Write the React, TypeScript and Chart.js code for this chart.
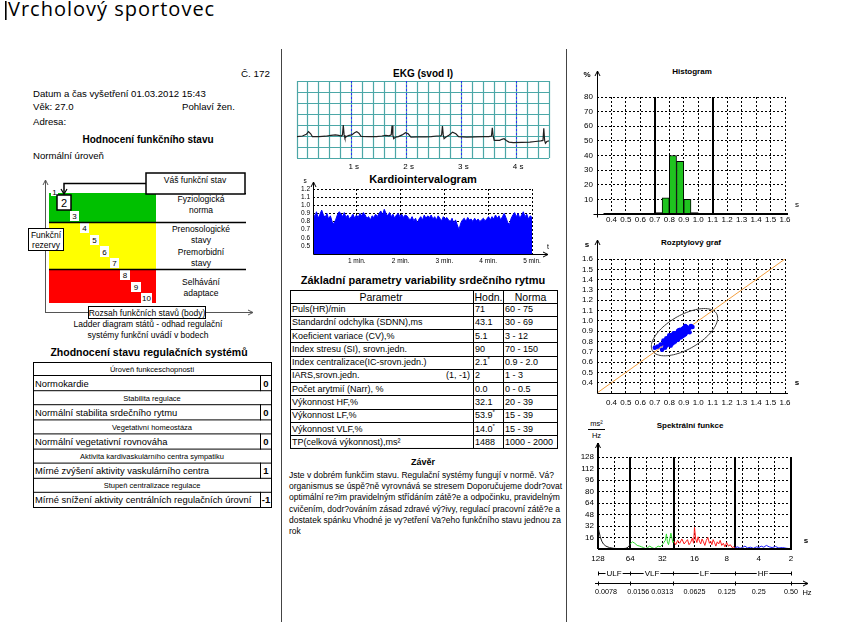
import React, { useEffect, useRef } from "react";
import { Chart, registerables } from "chart.js";

Chart.register(...registerables);

const SANS = "'Liberation Sans', Arial, Helvetica, sans-serif";

// ---------------- EKG (svod I) ----------------
const ekgTimeS = [0, 0.10, 0.17, 0.21, 0.25, 0.28, 0.40, 0.52, 0.62, 0.70, 0.76, 0.81, 0.83, 0.845, 0.86, 0.875, 0.90, 0.95, 1.00, 1.05, 1.09, 1.13, 1.17, 1.30, 1.45, 1.55, 1.62, 1.68, 1.72, 1.735, 1.75, 1.765, 1.80, 1.85, 1.92, 1.98, 2.03, 2.08, 2.20, 2.35, 2.45, 2.55, 2.62, 2.64, 2.655, 2.67, 2.685, 2.72, 2.78, 2.84, 2.90, 2.95, 3.10, 3.25, 3.40, 3.50, 3.55, 3.565, 3.58, 3.60, 3.70, 3.74, 3.78, 3.82, 3.87, 3.95, 4.10, 4.25, 4.35, 4.45, 4.49, 4.505, 4.52, 4.535, 4.56, 4.60];
const ekgValue = [1.95, 2.0, 2.15, 2.4, 2.2, 1.95, 1.95, 1.98, 2.05, 2.1, 2.05, 2.0, 2.1, 3.0, 2.1, 1.8, 1.95, 2.05, 2.1, 2.3, 2.4, 2.25, 1.97, 1.95, 1.95, 2.0, 2.05, 2.02, 2.1, 2.95, 2.1, 1.75, 1.9, 1.95, 2.1, 2.3, 2.2, 1.9, 1.92, 1.92, 1.95, 2.0, 2.0, 2.1, 2.9, 2.1, 1.75, 1.9, 2.1, 2.35, 2.2, 1.95, 1.9, 1.92, 1.95, 1.95, 2.0, 2.75, 2.0, 1.6, 1.6, 1.7, 1.75, 1.6, 1.45, 1.4, 1.42, 1.45, 1.5, 1.55, 1.6, 2.7, 1.6, 1.35, 1.5, 1.55];
const ekgSecondMarks = [1, 2, 3, 4];

// ---------------- Kardiointervalogram ----------------
const rrSeconds = [
  0.91, 0.86, 0.92, 0.84, 0.89, 0.94, 0.88, 0.85, 0.90,
  0.83, 0.87, 0.80, 0.77, 0.82, 0.88, 0.92,
  0.90, 0.86, 0.91, 0.85, 0.88, 0.83, 0.86, 0.89, 0.84, 0.88, 0.85, 0.90, 0.87, 0.91,
  0.88, 0.84, 0.86, 0.82, 0.87, 0.85, 0.89, 0.86, 0.90, 0.93, 0.88, 0.95, 0.90,
  0.87, 0.91, 0.86, 0.89, 0.84, 0.88, 0.90, 0.86, 0.89, 0.85, 0.88, 0.87,
  0.84, 0.82, 0.86, 0.81, 0.84, 0.78, 0.83, 0.86, 0.82, 0.88, 0.84, 0.87,
  0.85, 0.88, 0.83, 0.86, 0.82, 0.87, 0.84, 0.81, 0.86, 0.83, 0.85, 0.82,
  0.80, 0.84, 0.78, 0.82, 0.76, 0.70, 0.78, 0.82, 0.84, 0.80, 0.85, 0.82,
  0.83, 0.80, 0.84, 0.81, 0.83, 0.80, 0.82, 0.84, 0.81, 0.83, 0.86, 0.82,
  0.86, 0.83, 0.88, 0.84, 0.87, 0.82, 0.86, 0.90, 0.85, 0.79, 0.76, 0.84,
  0.88, 0.91, 0.86, 0.90, 0.84, 0.88, 0.92, 0.86, 0.89, 0.83, 0.87, 0.85,
];
const rrTotalMinutes = 5;
const rrMinuteTicks = [1, 2, 3, 4, 5];
const rrYTicks = [0.5, 0.6, 0.7, 0.8, 0.9, 1.0, 1.1, 1.2];

// ---------------- Histogram ----------------
const histBinCenters = [0.725, 0.775, 0.825, 0.875, 0.925, 0.975];
const histPercent = [1, 11, 40, 36, 10, 1];
const histXTicks = [0.4, 0.5, 0.6, 0.7, 0.8, 0.9, 1.0, 1.1, 1.2, 1.3, 1.4, 1.5, 1.6];
const histYTicks = [10, 20, 30, 40, 50, 60, 70, 80];
const histNormBounds = [0.7, 1.1];

// ---------------- Rozptylový graf ----------------
const scatterRRn = [0.80, 0.81, 0.82, 0.83, 0.84, 0.85, 0.86, 0.87, 0.88, 0.89, 0.90, 0.91, 0.83, 0.85, 0.86, 0.84, 0.87, 0.89, 0.88, 0.86, 0.82, 0.80, 0.79, 0.78, 0.80, 0.77, 0.79, 0.76, 0.78, 0.84, 0.83, 0.85, 0.86, 0.87, 0.88, 0.90, 0.89, 0.91, 0.92, 0.93, 0.92, 0.94, 0.95, 0.81, 0.84, 0.82, 0.86, 0.85, 0.88, 0.87, 0.91, 0.83, 0.80, 0.79, 0.83, 0.76, 0.81, 0.74, 0.77, 0.72, 0.70, 0.75, 0.82, 0.84, 0.86, 0.88, 0.85, 0.83, 0.87, 0.89, 0.81, 0.90, 0.93, 0.89, 0.92, 0.84, 0.88, 0.86, 0.90, 0.80, 0.78, 0.82, 0.96, 0.91, 0.94, 0.825, 0.845, 0.865, 0.855, 0.875, 0.835, 0.815, 0.895, 0.905, 0.885, 0.80, 0.83, 0.86, 0.89, 0.87, 0.84, 0.81, 0.78];
const scatterRRn1 = [0.81, 0.80, 0.83, 0.82, 0.85, 0.84, 0.87, 0.86, 0.89, 0.88, 0.91, 0.90, 0.85, 0.83, 0.84, 0.86, 0.89, 0.87, 0.86, 0.88, 0.80, 0.82, 0.80, 0.79, 0.78, 0.78, 0.77, 0.78, 0.76, 0.83, 0.84, 0.86, 0.85, 0.88, 0.87, 0.89, 0.90, 0.92, 0.91, 0.92, 0.94, 0.93, 0.95, 0.84, 0.81, 0.86, 0.82, 0.88, 0.85, 0.91, 0.87, 0.80, 0.84, 0.83, 0.79, 0.81, 0.76, 0.77, 0.74, 0.75, 0.74, 0.72, 0.82, 0.84, 0.86, 0.88, 0.85, 0.83, 0.87, 0.89, 0.81, 0.93, 0.90, 0.92, 0.89, 0.88, 0.84, 0.90, 0.86, 0.86, 0.82, 0.78, 0.94, 0.95, 0.89, 0.835, 0.855, 0.875, 0.845, 0.865, 0.825, 0.825, 0.905, 0.895, 0.875, 0.85, 0.88, 0.82, 0.85, 0.91, 0.80, 0.86, 0.83];
const scatterTicks = [0.4, 0.5, 0.6, 0.7, 0.8, 0.9, 1.0, 1.1, 1.2, 1.3, 1.4, 1.5, 1.6];
const scatterEllipseCenter = [0.905, 0.89];
const scatterEllipseAxes = [0.29, 0.145];

// ---------------- Spektrální funkce ----------------
const ulfPeriod = [128, 125, 122, 118, 114, 108, 100, 92, 84, 76, 70, 67, 65, 64];
const ulfPower = [31, 24, 17, 11, 7, 4, 2, 1, 0.6, 0.5, 1, 2.5, 5, 7];
const vlfPeriod = [64, 61, 58, 55, 52, 50, 48, 46, 44, 42, 40, 38, 36.5, 35, 33.5, 32, 31, 30, 29.3, 28.7, 28, 27.3, 26.6, 26, 25.5, 25];
const vlfPower = [7, 10, 8, 5, 4, 3, 2, 0.5, 2, 4, 2, 0.5, 2, 4, 3, 6, 9, 12, 21, 10, 6, 14, 22, 15, 9, 11];
const lfPeriod = [25, 24, 23, 22, 21, 20, 19.3, 18.6, 18, 17.4, 16.8, 16.3, 16, 15.6, 15.2, 14.8, 14.4, 14, 13.6, 13.2, 12.8, 12.4, 12, 11.6, 11.3, 11, 10.7, 10.4, 10.1, 9.8, 9.5, 9.2, 8.9, 8.6, 8.3, 8, 7.7, 7.4, 7.1, 6.9, 6.67];
const lfPower = [11, 6, 12, 8, 14, 7, 10, 13, 6, 9, 15, 8, 30, 14, 9, 17, 11, 7, 14, 10, 5, 12, 16, 8, 11, 6, 13, 9, 4, 10, 7, 12, 5, 8, 3, 9, 4, 6, 2, 3, 1];
const hfPeriod = [6.67, 6.3, 6, 5.7, 5.4, 5.1, 4.8, 4.5, 4.2, 4, 3.8, 3.6, 3.4, 3.2, 3.0, 2.8, 2.6, 2.4, 2.2, 2.05, 2];
const hfPower = [2, 3, 1, 2, 4, 1.5, 2.5, 1, 3, 2, 4, 2.5, 5, 3, 2, 3.5, 1.5, 2, 1, 0.5, 0];
const spectralPeriodTicks = [128, 64, 32, 16, 8, 4, 2];
const spectralPowerTicks = [16, 32, 48, 64, 80, 96, 112, 128];
const spectralGridPeriods = [90.5, 45.25, 32, 22.63, 16, 11.31, 8, 5.66, 4, 2.83];
const spectralBandEdges = [128, 64, 25, 6.667, 2];
const spectralBandNames = ["ULF", "VLF", "LF", "HF"];
const spectralHzLabels = ["0.0078", "0.0156", "0.0313", "0.0625", "0.125", "0.25", "0.50"];

// ---------------- Tables / text ----------------
const regGroups = [
  ["Úroveň funkceschopnosti", "Normokardie", "0"],
  ["Stabilita regulace", "Normální stabilita srdečního rytmu", "0"],
  ["Vegetativní homeostáza", "Normální vegetativní rovnováha", "0"],
  ["Aktivita kardivaskulárního centra sympatiku", "Mírné zvýšení aktivity vaskulárního centra", "1"],
  ["Stupeň centralizace regulace", "Mírné snížení aktivity centrálních regulačních úrovní", "-1"],
];
const hrvParams = ["Puls(HR)/min", "Standardní odchylka (SDNN),ms", "Koeficient variace (CV),%", "Index stresu (SI), srovn.jedn.", "Index centralizace(IC-srovn.jedn.)", "IARS,srovn.jedn.", "Počet arytmií (Narr), %", "Výkonnost HF,%", "Výkonnost LF,%", "Výkonnost VLF,%", "TP(celková výkonnost),ms²"];
const hrvValues = ["71", "43.1", "5.1", "90", "2.1", "2", "0.0", "32.1", "53.9", "14.0", "1488"];
const hrvFlag = [false, false, false, false, true, false, false, false, true, true, false];
const hrvNorms = ["60 - 75", "30 - 69", "3 - 12", "70 - 150", "0.9 - 2.0", "1 - 3", "0 - 0.5", "20 - 39", "15 - 39", "15 - 39", "1000 - 2000"];
const zaverLines = [
  "Jste v dobrém funkčim stavu. Regulační systémy fungují v normě. Vá?",
  "organismus se úspě?ně vyrovnává se stresem Doporučujeme dodr?ovat",
  "optimální re?im pravidelným střídáním zátě?e a odpočinku, pravidelným",
  "cvičením, dodr?ováním zásad zdravé vý?ivy, regulací pracovní zátě?e a",
  "dostatek spánku Vhodné je vy?etření Va?eho funkčního stavu jednou za",
  "rok",
];
const ladderSteps = ["1", "2", "3", "4", "5", "6", "7", "8", "9", "10"];

// ---------------- drawing helpers ----------------
const crisp = (v: number) => Math.round(v - 0.5) + 0.5;
function seg(ctx: any, x1: number, y1: number, x2: number, y2: number, color = "#000", w = 1, dash: number[] = []) {
  ctx.save();
  ctx.beginPath();
  ctx.strokeStyle = color;
  ctx.lineWidth = w;
  ctx.setLineDash(dash);
  ctx.moveTo(x1, y1);
  ctx.lineTo(x2, y2);
  ctx.stroke();
  ctx.restore();
}
function arrowUp(ctx: any, x: number, y: number) {
  seg(ctx, x - 2.5, y + 5, x, y);
  seg(ctx, x + 2.5, y + 5, x, y);
}
function arrowRight(ctx: any, x: number, y: number) {
  seg(ctx, x - 5, y - 2.5, x, y);
  seg(ctx, x - 5, y + 2.5, x, y);
}
function txt(ctx: any, s: string, x: number, y: number, size: number, align = "center", bold = false, color = "#000") {
  ctx.save();
  ctx.font = `${bold ? "bold " : ""}${size}px ${SANS}`;
  ctx.fillStyle = color;
  ctx.textAlign = align;
  ctx.textBaseline = "middle";
  ctx.fillText(s, x, y);
  ctx.restore();
}
const DASH = [2, 2];

function baseOptions(padding: any, scales: any) {
  return {
    responsive: false,
    animation: false,
    events: [],
    layout: { padding },
    plugins: { legend: { display: false }, tooltip: { enabled: false }, title: { display: false } },
    scales,
  };
}

// ---------------- chart builders ----------------
const TEAL = "#4ca7a7";
const ekgPlugin = {
  id: "ekgPaper",
  beforeDatasetsDraw(chart: any) {
    const { ctx, chartArea: a } = chart;
    const x = chart.scales.x, y = chart.scales.y;
    for (let i = 0; i <= 23; i++) {
      const X = crisp(x.getPixelForValue(i * 0.2));
      seg(ctx, X, a.top, X, a.bottom, TEAL, 1.2);
    }
    for (let v = 0; v <= 7; v++) {
      const Y = crisp(y.getPixelForValue(v));
      seg(ctx, a.left, Y, a.right, Y, TEAL, 1.2);
    }
    ekgSecondMarks.forEach((s) => {
      const X = crisp(x.getPixelForValue(s));
      seg(ctx, X, a.top, X, a.bottom, "#2b2bff", 1, DASH);
    });
  },
  afterDraw(chart: any) {
    const { ctx, chartArea: a } = chart;
    const x = chart.scales.x;
    ekgSecondMarks.forEach((s) => txt(ctx, `${s} s`, x.getPixelForValue(s) + 2, a.bottom + 9, 8));
  },
};
const buildEkg = (padding: any) => ({
  type: "line",
  data: {
    datasets: [{
      data: ekgTimeS.map((t, i) => ({ x: t, y: ekgValue[i] })),
      borderColor: "#202020", borderWidth: 1.2, pointRadius: 0, tension: 0,
    }],
  },
  options: baseOptions(padding, {
    x: { type: "linear", min: 0, max: 4.6, display: false },
    y: { type: "linear", min: 0, max: 7, display: false },
  }),
  plugins: [ekgPlugin],
});

const rrPlugin = {
  id: "rrAxes",
  beforeDatasetsDraw(chart: any) {
    const { ctx, chartArea: a } = chart;
    const x = chart.scales.x, y = chart.scales.y;
    rrYTicks.forEach((v) => {
      const Y = crisp(y.getPixelForValue(v));
      seg(ctx, a.left, Y, a.right, Y, "#000", 1, DASH);
    });
    rrMinuteTicks.forEach((m) => {
      const X = crisp(x.getPixelForValue(m));
      seg(ctx, X, y.getPixelForValue(1.2), X, a.bottom, "#000", 1, DASH);
    });
  },
  afterDraw(chart: any) {
    const { ctx, chartArea: a } = chart;
    const x = chart.scales.x, y = chart.scales.y;
    const X0 = crisp(a.left), Y0 = crisp(a.bottom);
    seg(ctx, X0, Y0, X0, a.top - 7);
    arrowUp(ctx, X0, a.top - 7);
    seg(ctx, X0, Y0, a.right + 16, Y0);
    arrowRight(ctx, a.right + 16, Y0);
    rrYTicks.forEach((v) => txt(ctx, v.toFixed(1), a.left - 3, y.getPixelForValue(v), 6.5, "right"));
    rrMinuteTicks.forEach((m) => txt(ctx, `${m} min.`, x.getPixelForValue(m), a.bottom + 7, 6.5));
    txt(ctx, "s", a.left - 8, a.top - 8, 6.5);
    txt(ctx, "t", a.right + 16, a.bottom - 7, 7);
  },
};
const buildRr = (padding: any) => ({
  type: "line",
  data: {
    datasets: [{
      data: rrSeconds.map((v, i) => ({ x: (i * rrTotalMinutes) / (rrSeconds.length - 1), y: v })),
      borderColor: "#0000ff", backgroundColor: "#0000ff", borderWidth: 1, pointRadius: 0, tension: 0, fill: "start",
    }],
  },
  options: baseOptions(padding, {
    x: { type: "linear", min: 0, max: rrTotalMinutes, display: false },
    y: { type: "linear", min: 0.4, max: 1.2, display: false },
  }),
  plugins: [rrPlugin],
});

const histPlugin = {
  id: "histAxes",
  beforeDatasetsDraw(chart: any) {
    const { ctx, chartArea: a } = chart;
    const x = chart.scales.x, y = chart.scales.y;
    histYTicks.forEach((v) => {
      const Y = crisp(y.getPixelForValue(v));
      seg(ctx, a.left, Y, a.right, Y, "#000", 1, DASH);
    });
    histXTicks.forEach((v) => {
      const X = crisp(x.getPixelForValue(v));
      seg(ctx, X, a.top, X, a.bottom, "#000", 1, DASH);
    });
    histNormBounds.forEach((v) => {
      const X = Math.round(x.getPixelForValue(v));
      seg(ctx, X, a.top, X, a.bottom, "#000", 2);
    });
  },
  afterDraw(chart: any) {
    const { ctx, chartArea: a } = chart;
    const x = chart.scales.x, y = chart.scales.y;
    const X0 = crisp(a.left), Y0 = crisp(a.bottom);
    seg(ctx, X0, Y0 + 3, X0, a.top - 26);
    arrowUp(ctx, X0, a.top - 26);
    seg(ctx, X0 - 4, Y0, a.right + 3, Y0);
    seg(ctx, x.getPixelForValue(0.345), Math.round(a.bottom), a.right + 3, Math.round(a.bottom), "#000", 2);
    histYTicks.forEach((v) => txt(ctx, String(v), a.left - 4, y.getPixelForValue(v), 8, "right"));
    histXTicks.forEach((v) => txt(ctx, v.toFixed(1), x.getPixelForValue(v), a.bottom + 6, 8));
    txt(ctx, "%", a.left - 10, a.top - 22, 8, "center", true);
    txt(ctx, "s", a.right + 12, a.bottom - 9, 8);
  },
};
const buildHist = (padding: any) => ({
  type: "bar",
  data: {
    datasets: [{
      data: histBinCenters.map((c, i) => ({ x: c, y: histPercent[i] })),
      backgroundColor: "#1fc41f", borderColor: "#000", borderWidth: 1,
      barPercentage: 1, categoryPercentage: 1,
    }],
  },
  options: baseOptions(padding, {
    x: { type: "linear", min: 0.3, max: 1.6, offset: false, display: false },
    y: { type: "linear", min: 0, max: 80, display: false },
  }),
  plugins: [histPlugin],
});

const scatterPlugin = {
  id: "scatAxes",
  beforeDatasetsDraw(chart: any) {
    const { ctx, chartArea: a } = chart;
    const x = chart.scales.x, y = chart.scales.y;
    scatterTicks.forEach((v) => {
      const Y = crisp(y.getPixelForValue(v));
      seg(ctx, a.left, Y, a.right, Y, "#000", 1, DASH);
      const X = crisp(x.getPixelForValue(v));
      seg(ctx, X, a.top, X, a.bottom, "#000", 1, DASH);
    });
    const [cx, cy] = scatterEllipseCenter;
    const [ra, rb] = scatterEllipseAxes;
    ctx.save();
    ctx.beginPath();
    ctx.strokeStyle = "#3a3a3a";
    ctx.lineWidth = 1;
    for (let k = 0; k <= 90; k++) {
      const th = (k / 90) * Math.PI * 2;
      const u = ra * Math.cos(th), w = rb * Math.sin(th);
      const X = x.getPixelForValue(cx + (u - w) / Math.SQRT2);
      const Y = y.getPixelForValue(cy + (u + w) / Math.SQRT2);
      if (k === 0) ctx.moveTo(X, Y); else ctx.lineTo(X, Y);
    }
    ctx.stroke();
    ctx.restore();
  },
  afterDraw(chart: any) {
    const { ctx, chartArea: a } = chart;
    const x = chart.scales.x, y = chart.scales.y;
    const X0 = crisp(a.left), Y0 = crisp(a.bottom);
    seg(ctx, X0, Y0, X0, a.top - 19);
    arrowUp(ctx, X0, a.top - 19);
    seg(ctx, X0, Y0, a.right + 3, Y0);
    scatterTicks.forEach((v) => {
      txt(ctx, v.toFixed(1), a.left - 4, y.getPixelForValue(v), 8, "right");
      txt(ctx, v.toFixed(1), x.getPixelForValue(v), a.bottom + 10, 8);
    });
    txt(ctx, "s", a.left - 10, a.top - 14, 8, "center", true);
    txt(ctx, "s", a.right + 12, a.bottom - 10, 8, "center", true);
  },
};
const buildScatter = (padding: any) => ({
  type: "scatter",
  data: {
    datasets: [
      {
        data: scatterRRn.map((v, i) => ({ x: v, y: scatterRRn1[i] })),
        backgroundColor: "#0000ff", borderWidth: 0, pointRadius: 2.3, order: 0,
      },
      {
        data: [{ x: 0.3, y: 0.3 }, { x: 1.6, y: 1.6 }],
        showLine: true, borderColor: "#f4a040", borderWidth: 1, pointRadius: 0, order: 1,
      },
    ],
  },
  options: baseOptions(padding, {
    x: { type: "linear", min: 0.3, max: 1.6, display: false },
    y: { type: "linear", min: 0.3, max: 1.6, display: false },
  }),
  plugins: [scatterPlugin],
});

const spectralPlugin = {
  id: "specAxes",
  beforeDatasetsDraw(chart: any) {
    const { ctx, chartArea: a } = chart;
    const x = chart.scales.x, y = chart.scales.y;
    spectralPowerTicks.forEach((v) => {
      const Y = crisp(y.getPixelForValue(v));
      seg(ctx, a.left, Y, a.right, Y, "#000", 1, DASH);
    });
    spectralGridPeriods.forEach((p) => {
      const X = crisp(x.getPixelForValue(p));
      seg(ctx, X, a.top, X, a.bottom, "#000", 1, DASH);
    });
    spectralBandEdges.forEach((p) => {
      const X = Math.round(x.getPixelForValue(p));
      seg(ctx, X, a.top, X, a.bottom, "#000", 2);
    });
  },
  afterDraw(chart: any) {
    const { ctx, chartArea: a } = chart;
    const x = chart.scales.x, y = chart.scales.y;
    const X0 = Math.round(a.left), Y0 = Math.round(a.bottom);
    seg(ctx, X0, Y0, X0, a.top - 14, "#000", 2);
    arrowUp(ctx, X0, a.top - 14);
    seg(ctx, X0, Y0, a.right + 1, Y0, "#000", 2);
    spectralPowerTicks.forEach((v) => txt(ctx, String(v), a.left - 4, y.getPixelForValue(v), 8, "right"));
    spectralPeriodTicks.forEach((p) => txt(ctx, String(p), x.getPixelForValue(p), a.bottom + 10, 8));
    txt(ctx, "s", a.right + 15, a.bottom - 8, 8, "center", true);
    // band row
    const by = crisp(a.bottom + 24);
    seg(ctx, a.left, by, a.right, by, "#000", 1);
    spectralBandEdges.forEach((p) => {
      const X = crisp(x.getPixelForValue(p));
      seg(ctx, X, by - 2, X, by + 2, "#000", 1);
    });
    spectralBandNames.forEach((n, i) => {
      const cxp = (x.getPixelForValue(spectralBandEdges[i]) + x.getPixelForValue(spectralBandEdges[i + 1])) / 2;
      ctx.save();
      ctx.font = `8px ${SANS}`;
      const w = ctx.measureText(n).width;
      ctx.fillStyle = "#fff";
      ctx.fillRect(cxp - w / 2 - 1, by - 4, w + 2, 8);
      ctx.restore();
      txt(ctx, n, cxp, by, 8);
    });
    // Hz axis
    const hy = crisp(a.bottom + 34);
    seg(ctx, a.left - 3, hy, a.right + 17, hy, "#000", 1);
    arrowRight(ctx, a.right + 17, hy);
    spectralBandEdges.forEach((p) => {
      const X = crisp(x.getPixelForValue(p));
      seg(ctx, X, hy - 2, X, hy + 2, "#000", 1);
    });
    spectralHzLabels.forEach((s, i) => {
      const X = x.getPixelForValue(spectralPeriodTicks[i]);
      if (i < 2) txt(ctx, s, X - 3, hy + 9, 7.2, "left");
      else txt(ctx, s, X, hy + 9, 7.2);
    });
    txt(ctx, "Hz", a.right + 16, hy + 9, 7.5);
  },
};
const line = (period: number[], power: number[], color: string) => ({
  data: period.map((p, i) => ({ x: p, y: power[i] })),
  borderColor: color, borderWidth: 1, pointRadius: 0, tension: 0,
});
const buildSpectral = (padding: any) => ({
  type: "line",
  data: {
    datasets: [
      line(ulfPeriod, ulfPower, "#222222"),
      line(vlfPeriod, vlfPower, "#2fdc2f"),
      line(lfPeriod, lfPower, "#ff1a1a"),
      line(hfPeriod, hfPower, "#1a1aff"),
    ],
  },
  options: baseOptions(padding, {
    x: { type: "logarithmic", min: 2, max: 128, reverse: true, display: false },
    y: { type: "linear", min: 0, max: 128, display: false },
  }),
  plugins: [spectralPlugin],
});

// ---------------- components ----------------
type Rect = { x: number; y: number; w: number; h: number };
type Area = { l: number; t: number; r: number; b: number };

function ChartCanvas({ rect, area, build }: { rect: Rect; area: Area; build: (p: any) => any }) {
  const ref = useRef<HTMLCanvasElement | null>(null);
  useEffect(() => {
    const padding = { left: area.l - rect.x, top: area.t - rect.y, right: rect.x + rect.w - area.r, bottom: rect.y + rect.h - area.b };
    const chart = new Chart(ref.current as HTMLCanvasElement, build(padding));
    return () => chart.destroy();
  }, []);
  return (
    <canvas ref={ref} width={rect.w} height={rect.h}
      style={{ position: "absolute", left: rect.x, top: rect.y, width: rect.w, height: rect.h }} />
  );
}

const T = (p: any) => <text fontFamily={SANS} fill="#000" dominantBaseline="central" {...p} />;

function Ladder() {
  const steps = [
    { x: 51, y: 188, w: 7, h: 8 },
    { x: 57, y: 195, w: 14, h: 15 },
    { x: 70, y: 211, w: 9, h: 10 },
    { x: 80, y: 223, w: 9, h: 10 },
    { x: 90, y: 235, w: 9, h: 10 },
    { x: 100, y: 246, w: 9, h: 11 },
    { x: 110, y: 258, w: 9, h: 10 },
    { x: 120, y: 270, w: 10, h: 10 },
    { x: 131, y: 282, w: 10, h: 10 },
    { x: 141, y: 293, w: 11, h: 10 },
  ];
  return (
    <g>
      <rect x={49} y={193} width={107} height={29} fill="#00c000" />
      <rect x={49} y={222} width={107} height={47} fill="#ffff00" />
      <rect x={49} y={269} width={107} height={34} fill="#ff0000" />
      {steps.map((s, i) => (
        <g key={i}>
          <rect x={s.x} y={s.y} width={s.w} height={s.h} fill="#fff"
            stroke={i === 1 ? "#000" : "none"} strokeWidth={i === 1 ? 1.5 : 0} />
          <T x={s.x + s.w / 2} y={s.y + s.h / 2 + 0.5} fontSize={i === 1 ? 11 : 8} textAnchor="middle">{ladderSteps[i]}</T>
        </g>
      ))}
      <line x1={156} y1={193.5} x2={246} y2={193.5} stroke="#000" strokeWidth={1} />
      <line x1={49} y1={222.5} x2={246} y2={222.5} stroke="#000" strokeWidth={1.5} />
      <line x1={49} y1={269.5} x2={246} y2={269.5} stroke="#000" strokeWidth={1.5} />
      <T x={201} y={199} fontSize={8.5} textAnchor="middle">Fyziologická</T>
      <T x={201} y={210} fontSize={8.5} textAnchor="middle">norma</T>
      <T x={201} y={229} fontSize={8.5} textAnchor="middle">Prenosologické</T>
      <T x={201} y={240} fontSize={8.5} textAnchor="middle">stavy</T>
      <T x={201} y={252} fontSize={8.5} textAnchor="middle">Premorbidní</T>
      <T x={201} y={263} fontSize={8.5} textAnchor="middle">stavy</T>
      <T x={201} y={282} fontSize={8.5} textAnchor="middle">Selhávání</T>
      <T x={201} y={293} fontSize={8.5} textAnchor="middle">adaptace</T>
      {/* axes */}
      <line x1={45.5} y1={313} x2={45.5} y2={180} stroke="#555" />
      <polyline points="43,185 45.5,180 48,185" fill="none" stroke="#555" />
      <line x1={45} y1={312.5} x2={253} y2={312.5} stroke="#555" />
      <polyline points="248,310 253,312.5 248,315" fill="none" stroke="#555" />
      {/* Váš funkční stav */}
      <rect x={146} y={173} width={99} height={21} fill="#fff" stroke="#000" strokeWidth={1.5} />
      <T x={195} y={179.5} fontSize={8.5} textAnchor="middle">Váš funkční stav</T>
      <polyline points="146,183.5 64,183.5 64,193" fill="none" stroke="#000" strokeWidth={1.5} />
      <polyline points="61,189 64,194 67,189" fill="none" stroke="#000" strokeWidth={1.2} />
      {/* Funkční rezervy */}
      <rect x={28.5} y={228.5} width={35} height={22} fill="#fff" stroke="#000" />
      <T x={46} y={234.5} fontSize={8.5} textAnchor="middle">Funkční</T>
      <T x={46} y={245} fontSize={8.5} textAnchor="middle">rezervy</T>
      {/* Rozsah */}
      <rect x={88.5} y={306.5} width={117} height={12} fill="#fff" stroke="#000" />
      <T x={147} y={312.5} fontSize={8.5} textAnchor="middle">Rozsah funkčních stavů (body)</T>
      <T x={148} y={324} fontSize={8.5} textAnchor="middle">Ladder diagram států - odhad regulační</T>
      <T x={148} y={334.5} fontSize={8.5} textAnchor="middle">systémy funkční uvádí v bodech</T>
    </g>
  );
}

function RegTable() {
  const top = 362, hh = 13, dh = 16.2;
  const els: any[] = [];
  regGroups.forEach((g, i) => {
    const y0 = top + i * (hh + dh);
    const y1 = y0 + hh;
    const y2 = y1 + dh;
    els.push(<T key={`h${i}`} x={152} y={y0 + hh / 2 + 0.5} fontSize={7.5} textAnchor="middle">{g[0]}</T>);
    els.push(<rect key={`r${i}`} x={33.5} y={y1 + 0.5} width={238} height={dh - 1} fill="none" stroke="#000" />);
    els.push(<line key={`v${i}`} x1={260.5} y1={y1} x2={260.5} y2={y2} stroke="#000" />);
    els.push(<T key={`d${i}`} x={35} y={y1 + dh / 2} fontSize={9.4}>{g[1]}</T>);
    els.push(<T key={`n${i}`} x={266} y={y1 + dh / 2} fontSize={9.5} fontWeight="bold" textAnchor="middle">{g[2]}</T>);
  });
  return (
    <g>
      <rect x={33.5} y={top + 0.5} width={238} height={5 * (hh + dh) - 1} fill="none" stroke="#000" />
      {els}
    </g>
  );
}

function HrvTable() {
  const top = 290.5, hdr = 12, rh = 13.27, left = 290.5, right = 557.5, c1 = 473.5, c2 = 503.5;
  const bottom = top + hdr + rh * hrvParams.length;
  const els: any[] = [];
  hrvParams.forEach((p, i) => {
    const yt = top + hdr + i * rh;
    const cy = yt + rh / 2;
    els.push(<line key={`l${i}`} x1={left} y1={Math.round(yt) + 0.5} x2={right} y2={Math.round(yt) + 0.5} stroke="#000" />);
    els.push(<T key={`p${i}`} x={292} y={cy} fontSize={9}>{p}</T>);
    if (i === 5) els.push(<T key="iars" x={470} y={cy} fontSize={9} textAnchor="end">(1, -1)</T>);
    els.push(
      <T key={`v${i}`} x={475} y={cy} fontSize={9}>
        {hrvValues[i]}
        {hrvFlag[i] ? <tspan fontSize={6} dy={-3}>*</tspan> : null}
      </T>
    );
    els.push(<T key={`n${i}`} x={505} y={cy} fontSize={9}>{hrvNorms[i]}</T>);
  });
  return (
    <g>
      <rect x={left} y={top} width={right - left} height={bottom - top} fill="none" stroke="#000" />
      <line x1={c1} y1={top} x2={c1} y2={bottom} stroke="#000" />
      <line x1={c2} y1={top} x2={c2} y2={bottom} stroke="#000" />
      <T x={381} y={top + hdr / 2 + 0.5} fontSize={10.5} textAnchor="middle">Parametr</T>
      <T x={488.5} y={top + hdr / 2 + 0.5} fontSize={10.5} textAnchor="middle">Hodn.</T>
      <T x={530.5} y={top + hdr / 2 + 0.5} fontSize={10.5} textAnchor="middle">Norma</T>
      {els}
    </g>
  );
}

function ReportSvg() {
  return (
    <svg width={867} height={628} style={{ position: "absolute", left: 0, top: 0 }}>
      <rect x={0} y={0} width={867} height={628} fill="#fff" />
      <rect x={5} y={1} width={1.6} height={19} fill="#000" />
      <text x={8} y={16} fontFamily="'Open Sans', 'Liberation Sans', sans-serif" fontSize={20} letterSpacing={1} fill="#000">Vrcholový sportovec</text>
      <line x1={281.5} y1={49} x2={281.5} y2={622} stroke="#444" />
      <line x1={566.5} y1={49} x2={566.5} y2={622} stroke="#444" />
      {/* left column */}
      <T x={241} y={73} fontSize={9.8}>Č. 172</T>
      <T x={33} y={93} fontSize={9.6}>Datum a čas vyšetření 01.03.2012 15:43</T>
      <T x={33} y={106.5} fontSize={9.6}>Věk: 27.0</T>
      <T x={182} y={106.5} fontSize={9.6}>Pohlaví žen.</T>
      <T x={33} y={121} fontSize={9.6}>Adresa:</T>
      <T x={148} y={139} fontSize={10} fontWeight="bold" textAnchor="middle">Hodnocení funkčního stavu</T>
      <T x={33} y={155} fontSize={9.6}>Normální úroveň</T>
      <Ladder />
      <T x={149} y={352} fontSize={10.5} fontWeight="bold" textAnchor="middle">Zhodnocení stavu regulačních systémů</T>
      <RegTable />
      {/* middle column */}
      <T x={423} y={73} fontSize={10} fontWeight="bold" textAnchor="middle">EKG (svod I)</T>
      <T x={423} y={179} fontSize={11} fontWeight="bold" textAnchor="middle">Kardiointervalogram</T>
      <T x={423} y={280} fontSize={11} fontWeight="bold" textAnchor="middle">Základní parametry variability srdečního rytmu</T>
      <HrvTable />
      <T x={423} y={462} fontSize={9} fontWeight="bold" textAnchor="middle">Závěr</T>
      {zaverLines.map((l, i) => (
        <T key={i} x={289} y={475 + i * 11.2} fontSize={8.5}>{l}</T>
      ))}
      {/* right column */}
      <T x={692} y={71} fontSize={8} fontWeight="bold" textAnchor="middle">Histogram</T>
      <T x={691} y={242} fontSize={8} fontWeight="bold" textAnchor="middle">Rozptylový graf</T>
      <T x={690} y={425} fontSize={8} fontWeight="bold" textAnchor="middle">Spektrální funkce</T>
      <T x={596.5} y={423} fontSize={7.5} textAnchor="middle">ms²</T>
      <line x1={588} y1={429.5} x2={605} y2={429.5} stroke="#000" />
      <T x={596.5} y={435} fontSize={7.5} textAnchor="middle">Hz</T>
    </svg>
  );
}

export default function App() {
  return (
    <div style={{ position: "absolute", left: 0, top: 0, width: 867, height: 628, overflow: "hidden", background: "#fff" }}>
      <ReportSvg />
      <ChartCanvas rect={{ x: 290, y: 78, w: 270, h: 96 }} area={{ l: 297, t: 81, r: 549, b: 158 }} build={buildEkg} />
      <ChartCanvas rect={{ x: 295, y: 178, w: 265, h: 88 }} area={{ l: 313, t: 189, r: 532, b: 254 }} build={buildRr} />
      <ChartCanvas rect={{ x: 575, y: 62, w: 240, h: 168 }} area={{ l: 597, t: 97, r: 785, b: 214 }} build={buildHist} />
      <ChartCanvas rect={{ x: 575, y: 235, w: 240, h: 177 }} area={{ l: 597, t: 259, r: 785, b: 393 }} build={buildScatter} />
      <ChartCanvas rect={{ x: 575, y: 412, w: 245, h: 195 }} area={{ l: 598, t: 457, r: 791, b: 549 }} build={buildSpectral} />
    </div>
  );
}
